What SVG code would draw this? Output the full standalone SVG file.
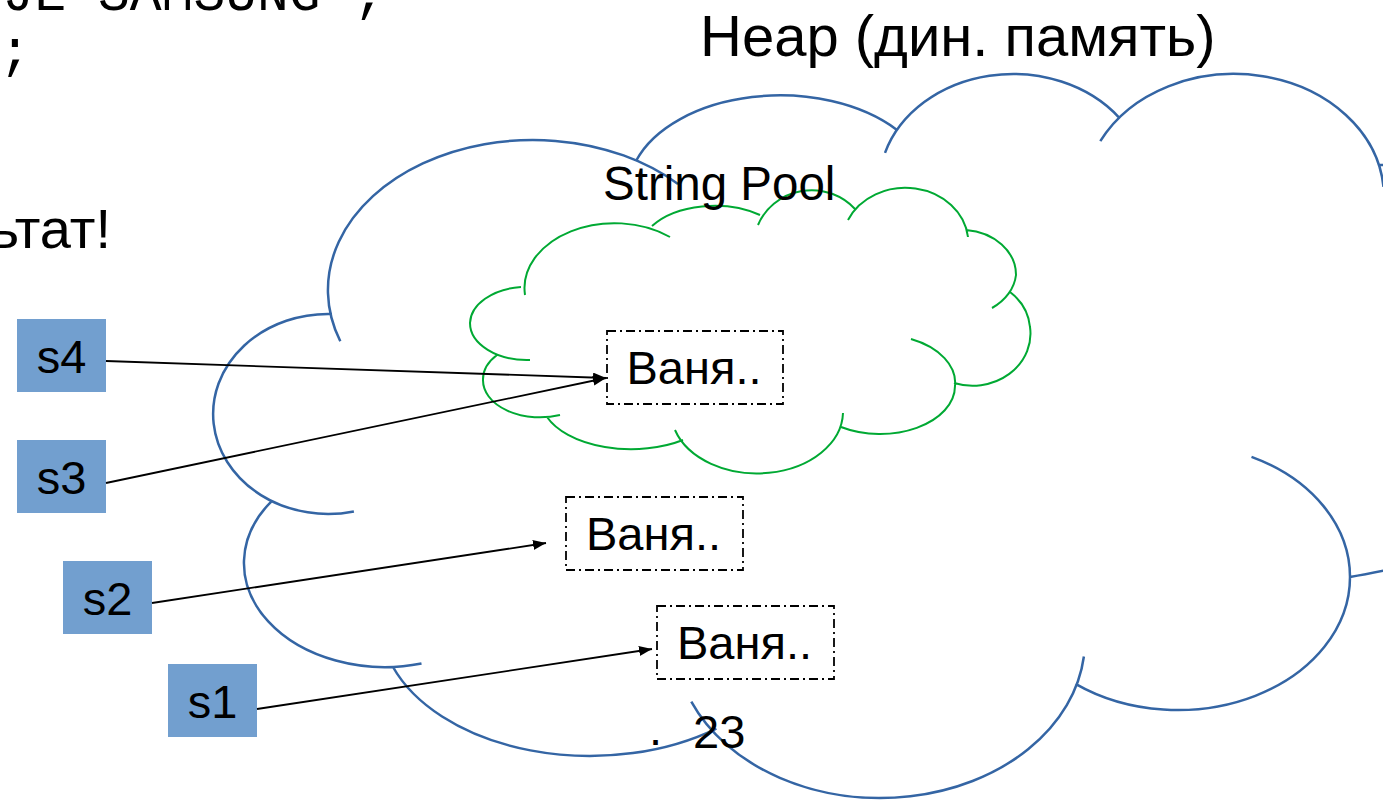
<svg xmlns="http://www.w3.org/2000/svg" width="1383" height="800" viewBox="0 0 1383 800">
<style>
.bg{fill:#ffffff}
.heap{fill:none;stroke:#3465a4;stroke-width:2.5}
.pool{fill:none;stroke:#00a933;stroke-width:2}
.obj{fill:none;stroke:#000;stroke-width:1.8;stroke-dasharray:9 4 2 4}
.ref{fill:#729fcf;stroke:none}
.t{font-family:"Liberation Sans",Arial,sans-serif;fill:#000}
.lbl{font-size:47px;text-anchor:middle}
.mono{font-family:"Liberation Mono","Courier New",monospace;font-size:53px;fill:#000}
.conn{fill:none;stroke:#000;stroke-width:1.8}
</style>
<defs>
<marker id="arr" markerUnits="userSpaceOnUse" viewBox="0 0 13 10" refX="13" refY="5" markerWidth="13" markerHeight="10" orient="auto">
<path d="M0,0 L13,5 L0,10 z" fill="#000"/>
</marker>
</defs>
<rect class="bg" x="0" y="0" width="1383" height="800"/>

<g id="code-text">
<text class="mono" x="2.6" y="10">JE"SAMSUNG";</text>
<text class="mono" x="-1" y="67">;</text>
<text class="t" x="111" y="248" font-size="56" text-anchor="end">ьтат!</text>
</g>

<g id="heap-title">
<text class="t" x="700" y="56" font-size="58">Heap (дин. память)</text>
</g>

<g id="heap-cloud">
<path class="heap" d="M 421.5 663.5 A 141 104 0 0 1 272 500.8
M 353.9 511.4 A 115 100 0 1 1 332 314
M 340.3 341.3 A 205 150 0 0 1 678 184
M 636 161 A 152 96 0 0 1 897 130
M 885 152.9 A 134 112 0 0 1 1119.3 117.8
M 1100.3 141.2 A 150 123 0 0 1 1383.5 186.9
M 1378 165 Q 1386 165 1392 166
M 1350 577 Q 1368 574 1392 569
M 1075.5 683.8 A 172 133 0 0 0 1350 577 A 172 133 0 0 0 1251.5 456.8
M 691.3 701.7 A 205 158 0 0 0 1083.9 656.5
M 392.7 666.5 A 210 136 0 0 0 716.4 728.6"/>
</g>

<g id="pool-cloud">
<path class="pool" d="M 521 287 A 57 37 0 0 0 470 323 A 57 37 0 0 0 530 360
M 497 355 A 57 37 0 0 0 483 380 A 57 37 0 0 0 560 415
M 547 417 A 90 50 0 0 0 683 440
M 675 430 A 86 62 0 0 0 843 413
M 911 339 A 75 48 0 0 1 955 386 A 75 48 0 0 1 841 427
M 1010 292 A 58 52 0 0 1 1030 327 A 58 52 0 0 1 954 383
M 966 230 A 55 45 0 0 1 1016 275 A 55 45 0 0 1 992 308
M 848 220 A 63 55 0 0 1 968 237
M 758 225 A 58 56 0 0 1 855 209
M 652 226 A 75 45 0 0 1 760 215
M 525 295 A 90 65 0 0 1 670 237"/>
<text class="t" x="603" y="200" font-size="47.5">String Pool</text>
</g>

<g id="str-pool">
<rect class="obj" x="607" y="331" width="176" height="73"/>
<text class="t lbl" x="694" y="384">Ваня..</text>
</g>
<g id="str-heap-2">
<rect class="obj" x="566" y="497" width="177" height="73"/>
<text class="t lbl" x="653.5" y="550">Ваня..</text>
</g>
<g id="str-heap-1">
<rect class="obj" x="657" y="606" width="177" height="73"/>
<text class="t lbl" x="744.5" y="659">Ваня..</text>
</g>

<g id="s4">
<rect class="ref" x="17" y="319" width="89" height="73"/>
<text class="t lbl" x="61.5" y="372.5">s4</text>
</g>
<g id="s3">
<rect class="ref" x="17" y="440" width="89" height="73"/>
<text class="t lbl" x="61.5" y="493.5">s3</text>
</g>
<g id="s2">
<rect class="ref" x="63" y="561" width="89" height="73"/>
<text class="t lbl" x="107.5" y="614.5">s2</text>
</g>
<g id="s1">
<rect class="ref" x="168" y="664" width="89" height="73"/>
<text class="t lbl" x="212.5" y="717.5">s1</text>
</g>

<g id="connectors">
<line class="conn" x1="106" y1="361" x2="606" y2="378" marker-end="url(#arr)"/>
<line class="conn" x1="106" y1="483" x2="606" y2="378" marker-end="url(#arr)"/>
<line class="conn" x1="152" y1="603" x2="546" y2="543" marker-end="url(#arr)"/>
<line class="conn" x1="257" y1="709" x2="652" y2="649" marker-end="url(#arr)"/>
</g>

<g id="slide-number">
<text class="t" x="649" y="745" font-size="47">.</text>
<text class="t" x="693" y="748" font-size="47">23</text>
</g>
</svg>
